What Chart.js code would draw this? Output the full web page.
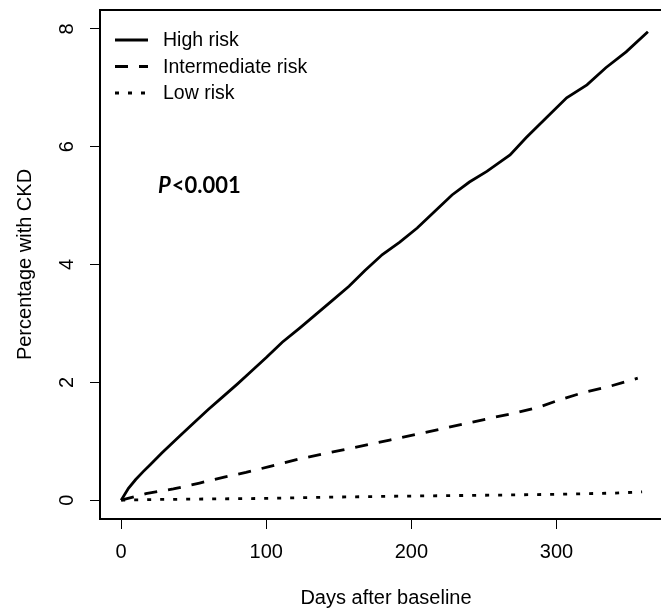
<!DOCTYPE html>
<html>
<head>
<meta charset="utf-8">
<script src="https://cdn.jsdelivr.net/npm/chart.js@4/dist/chart.umd.min.js"></script>
<style>
  html, body { margin: 0; padding: 0; background: #fff; overflow: hidden; }
  canvas { display: block; }
</style>
</head>
<body>
<canvas id="grafica" width="690" height="610"></canvas>
<script>
// cumulative incidence of CKD by risk group (days, %)
const highDays = [0, 5, 10, 15, 20, 28, 40, 47, 60, 68, 80, 88, 100, 111, 123, 134, 146, 157, 168, 180, 192, 204, 216, 228, 240, 252, 260, 268, 279, 293, 307, 321, 334, 348, 363];
const highPct  = [0, 0.2, 0.35, 0.48, 0.6, 0.8, 1.08, 1.24, 1.54, 1.71, 1.97, 2.15, 2.42, 2.68, 2.92, 3.15, 3.4, 3.63, 3.9, 4.17, 4.38, 4.62, 4.9, 5.18, 5.4, 5.58, 5.72, 5.86, 6.15, 6.49, 6.83, 7.05, 7.34, 7.61, 7.95];
const midDays  = [0, 8, 17, 36, 54, 71, 86, 102, 123, 152, 185, 219, 254, 270, 288, 303, 319, 335, 352, 356];
const midPct   = [0, 0.05, 0.11, 0.19, 0.29, 0.39, 0.47, 0.57, 0.7, 0.85, 1.02, 1.2, 1.39, 1.47, 1.58, 1.71, 1.83, 1.92, 2.04, 2.07];
const lowDays  = [0, 20, 60, 100, 143, 200, 258, 300, 340, 359];
const lowPct   = [0, 0.01, 0.02, 0.03, 0.05, 0.07, 0.085, 0.1, 0.12, 0.14];

const grupos = ['High risk', 'Intermediate risk', 'Low risk'];
const xTicks = [0, 100, 200, 300];
const yTicks = [0, 2, 4, 6, 8];

const pares = (xs, ys) => xs.map((x, i) => ({ x, y: ys[i] }));
const FUENTE = '"Liberation Sans", Arial, sans-serif';

// box top line, rotated y labels, legend and p-value
const extras = {
  id: 'extras',
  afterDraw(chart) {
    const { ctx, chartArea: a, scales } = chart;
    ctx.save();
    ctx.strokeStyle = '#000';
    ctx.lineWidth = 2;
    ctx.beginPath();
    ctx.moveTo(a.left - 1, a.top);
    ctx.lineTo(a.right + 1, a.top);
    ctx.moveTo(a.right, a.top);
    ctx.lineTo(a.right, a.bottom);
    ctx.stroke();

    ctx.fillStyle = '#000';
    ctx.font = '20px ' + FUENTE;
    ctx.textAlign = 'center';
    ctx.textBaseline = 'middle';
    scales.y.ticks.forEach(t => {
      const y = scales.y.getPixelForValue(t.value);
      ctx.save();
      ctx.translate(67, y);
      ctx.rotate(-Math.PI / 2);
      ctx.fillText(String(t.value), 0, 0);
      ctx.restore();
    });

    ctx.font = '19.5px ' + FUENTE;
    ctx.textAlign = 'left';
    chart.data.datasets.forEach((ds, i) => {
      const y = 40 + i * 26.5;
      ctx.save();
      ctx.lineWidth = ds.borderWidth;
      ctx.setLineDash(ds.borderDash || []);
      ctx.beginPath();
      ctx.moveTo(115, y);
      ctx.lineTo(148, y);
      ctx.stroke();
      ctx.restore();
      ctx.fillText(ds.label, 163, y + 1);
    });

    ctx.textBaseline = 'alphabetic';
    ctx.font = 'italic bold 22px Lato, "Open Sans", sans-serif';
    ctx.fillText('P', 158, 193);
    const w = ctx.measureText('P').width;
    ctx.font = 'bold 22px Lato, "Open Sans", sans-serif';
    ctx.fillText('<0.001', 158 + w + 1, 193);
    ctx.restore();
  }
};

const linea = (label, data, dash) => ({
  label, data, borderColor: '#000', borderWidth: 2.8, borderDash: dash,
  pointRadius: 0, tension: 0, fill: false, borderCapStyle: 'butt'
});

new Chart(document.getElementById('grafica'), {
  type: 'line',
  data: {
    datasets: [
      linea(grupos[0], pares(highDays, highPct), []),
      linea(grupos[1], pares(midDays, midPct), [13, 11]),
      linea(grupos[2], pares(lowDays, lowPct), [4, 9])
    ]
  },
  options: {
    responsive: false,
    animation: false,
    layout: { padding: { top: 10, right: 18, left: 0, bottom: 0 } },
    plugins: { legend: { display: false }, tooltip: { enabled: false } },
    scales: {
      x: {
        type: 'linear', min: -14.6, max: 379.6,
        afterBuildTicks: s => { s.ticks = xTicks.map(value => ({ value })); },
        afterFit: s => { s.height = 91; },
        grid: { drawOnChartArea: false, drawTicks: true, tickLength: 10, color: '#000', tickWidth: 1 },
        border: { display: true, color: '#000', width: 2 },
        ticks: { color: '#000', font: { family: FUENTE, size: 20 }, padding: 11, maxRotation: 0 },
        title: { display: true, text: 'Days after baseline', color: '#000', font: { family: FUENTE, size: 20 }, padding: { top: 0, bottom: 0 } }
      },
      y: {
        type: 'linear', min: -0.32, max: 8.32,
        afterBuildTicks: s => { s.ticks = yTicks.map(value => ({ value })); },
        afterFit: s => { s.width = 100; },
        grid: { drawOnChartArea: false, drawTicks: true, tickLength: 10, color: '#000', tickWidth: 1 },
        border: { display: true, color: '#000', width: 2 },
        ticks: { display: false },
        title: { display: true, text: 'Percentage with CKD', color: '#000', font: { family: FUENTE, size: 20 }, padding: { top: 13, bottom: 0 } }
      }
    }
  },
  plugins: [extras]
});
</script>
</body>
</html>
